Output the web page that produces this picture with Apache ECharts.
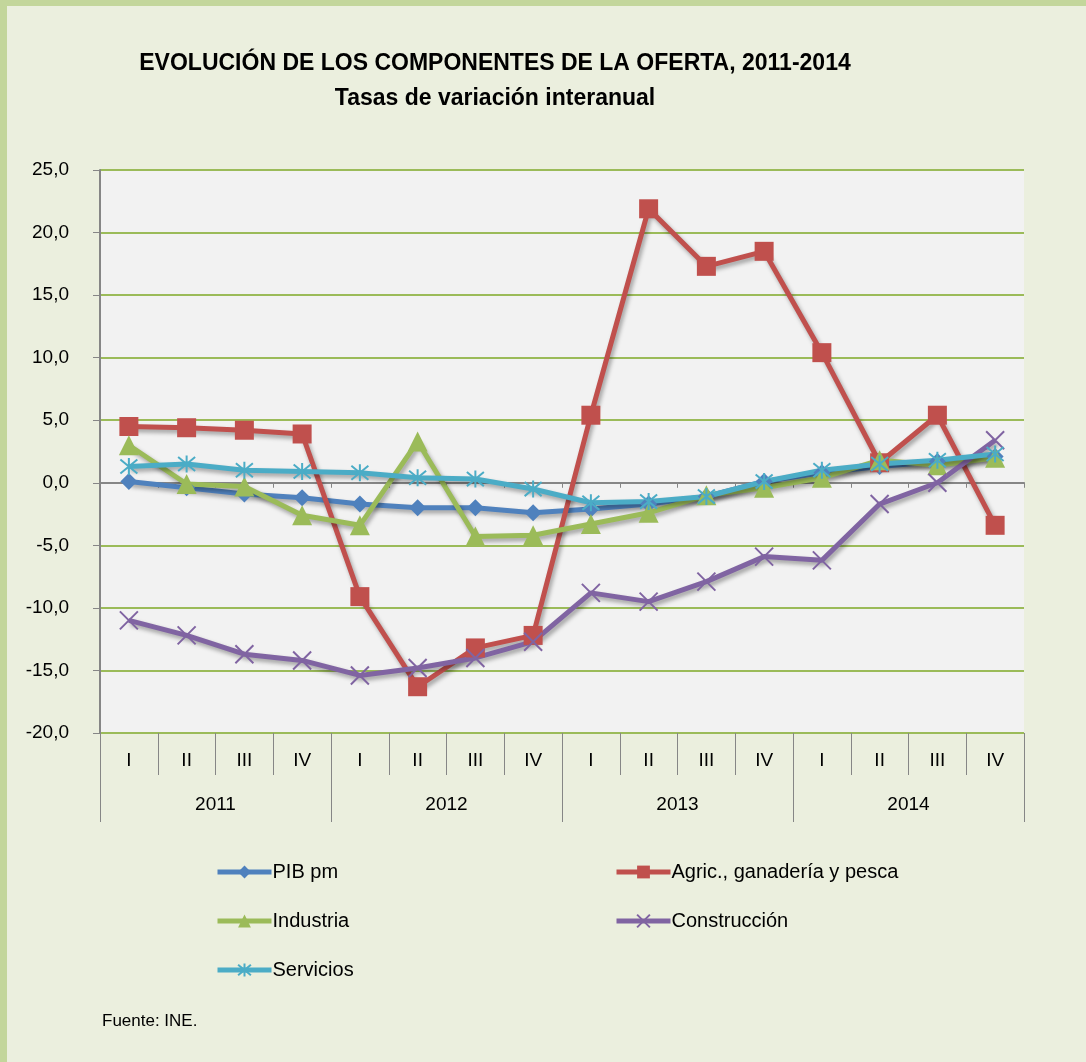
<!DOCTYPE html>
<html>
<head>
<meta charset="utf-8">
<script src="https://cdn.jsdelivr.net/npm/echarts@6/dist/echarts.min.js"></script>
<style>
  html, body { margin: 0; padding: 0; }
  body { width: 1086px; height: 1062px; background: #ebefde; }
  #frame {
    position: absolute; left: 0; top: 0; width: 1079px; height: 1056px;
    border-left: 7px solid #c3d69b; border-top: 6px solid #c3d69b;
    background: #ebefde;
  }
  #chart { position: absolute; left: -7px; top: -6px; width: 1086px; height: 1062px; }
</style>
</head>
<body>
<div id="frame"><div id="chart"></div></div>
<script>
// Quarters and years
const quarters = ['I', 'II', 'III', 'IV', 'I', 'II', 'III', 'IV', 'I', 'II', 'III', 'IV', 'I', 'II', 'III', 'IV']
const years = ['2011', '2012', '2013', '2014']

// Series values (tasas de variación interanual, %)
const pibPm = [0.1, -0.4, -0.9, -1.2, -1.7, -2.0, -2.0, -2.4, -2.1, -1.7, -1.1, 0.1, 0.8, 1.3, 1.7, 2.1]
const agric = [4.5, 4.4, 4.2, 3.9, -9.1, -16.3, -13.2, -12.2, 5.4, 21.9, 17.3, 18.5, 10.4, 1.6, 5.4, -3.4]
const industria = [3.0, -0.1, -0.3, -2.6, -3.4, 3.3, -4.3, -4.2, -3.3, -2.4, -1.0, -0.4, 0.4, 1.8, 1.4, 2.0]
const construccion = [-11.0, -12.2, -13.7, -14.2, -15.4, -14.8, -14.0, -12.7, -8.8, -9.5, -7.9, -5.9, -6.2, -1.7, 0.0, 3.4]
const servicios = [1.3, 1.5, 1.0, 0.9, 0.8, 0.4, 0.3, -0.5, -1.6, -1.5, -1.1, 0.1, 1.0, 1.5, 1.8, 2.3]

const font = 'Liberation Sans'
const chart = echarts.init(document.getElementById('chart'))

const crossPath = 'path://M0,0L10,10M10,0L0,10'
const starPath = 'path://M0,0L10,10M10,0L0,10M5,-1L5,11'

const shadow = {
  shadowColor: 'rgba(0,0,0,0.35)',
  shadowBlur: 4,
  shadowOffsetX: 2,
  shadowOffsetY: 3
}

const makeSeries = (name, data, color, symbol, size, stroke) => ({
  name: name,
  type: 'line',
  data: data,
  xAxisIndex: 0,
  symbol: symbol,
  symbolSize: size,
  showAllSymbol: true,
  lineStyle: Object.assign({ width: 5, color: color }, shadow),
  itemStyle: stroke
    ? { color: 'rgba(0,0,0,0)', borderColor: color, borderWidth: 2 }
    : { color: color, borderColor: color, borderWidth: 0 },
  emphasis: { disabled: true }
})

const legendText = { fontFamily: font, fontSize: 20, color: '#000', padding: [0, 0, 0, -4] }

const option = {
  backgroundColor: 'transparent',
  animation: false,
  textStyle: { fontFamily: font },
  title: [
    {
      text: 'EVOLUCIÓN DE LOS COMPONENTES DE LA OFERTA, 2011-2014',
      left: 490,
      top: 47,
      textAlign: 'center',
      textStyle: { fontFamily: font, fontSize: 23, fontWeight: 'bold', color: '#000' }
    },
    {
      text: 'Tasas de variación interanual',
      left: 490,
      top: 82,
      textAlign: 'center',
      textStyle: { fontFamily: font, fontSize: 23, fontWeight: 'bold', color: '#000' }
    }
  ],
  legend: [
    {
      left: 210,
      top: 857,
      orient: 'vertical',
      itemGap: 29,
      itemWidth: 54,
      itemHeight: 16,
      lineStyle: { width: 5 },
      data: ['PIB pm', 'Industria', 'Servicios'],
      textStyle: legendText
    },
    {
      left: 609,
      top: 857,
      orient: 'vertical',
      itemGap: 29,
      itemWidth: 54,
      itemHeight: 16,
      lineStyle: { width: 5 },
      data: ['Agric., ganadería y pesca', 'Construcción'],
      textStyle: legendText
    }
  ],
  grid: { left: 100, top: 170, width: 924, height: 563, backgroundColor: '#f2f2f2', show: true, borderWidth: 0 },
  xAxis: [
    {
      type: 'category',
      data: quarters,
      position: 'bottom',
      boundaryGap: true,
      axisLine: { show: false, onZero: false },
      axisTick: { show: true, length: 42, interval: 0, lineStyle: { color: '#868686', width: 1 } },
      axisLabel: { interval: 0, margin: 18, fontFamily: font, fontSize: 19, color: '#000' },
      splitLine: { show: false }
    },
    {
      type: 'category',
      data: years,
      position: 'bottom',
      boundaryGap: true,
      axisLine: { show: false, onZero: false },
      axisTick: { show: true, length: 89, interval: 0, lineStyle: { color: '#868686', width: 1 } },
      axisLabel: { interval: 0, margin: 62, fontFamily: font, fontSize: 19, color: '#000' },
      splitLine: { show: false }
    },
    {
      type: 'category',
      data: quarters,
      position: 'bottom',
      boundaryGap: true,
      axisLine: { show: true, onZero: true, lineStyle: { color: '#868686', width: 2 } },
      axisTick: { show: true, length: 5, interval: 0, lineStyle: { color: '#868686', width: 1 } },
      axisLabel: { show: false },
      splitLine: { show: false }
    }
  ],
  yAxis: {
    type: 'value',
    min: -20,
    max: 25,
    interval: 5,
    axisLine: { show: true, lineStyle: { color: '#868686', width: 2 } },
    axisTick: { show: true, length: 7, lineStyle: { color: '#868686', width: 1 } },
    axisLabel: {
      margin: 31,
      fontFamily: font,
      fontSize: 19,
      color: '#000',
      formatter: v => v.toFixed(1).replace('.', ',')
    },
    splitLine: { show: true, lineStyle: { color: '#9bbb59', width: 2 } }
  },
  series: [
    makeSeries('PIB pm', pibPm, '#4f81bd', 'diamond', 17, false),
    makeSeries('Agric., ganadería y pesca', agric, '#c0504d', 'rect', 19, false),
    makeSeries('Industria', industria, '#9bbb59', 'triangle', 20, false),
    makeSeries('Construcción', construccion, '#8064a2', crossPath, 18, true),
    makeSeries('Servicios', servicios, '#4bacc6', starPath, 17, true)
  ],
  graphic: [
    {
      type: 'text',
      left: 102,
      top: 1013,
      style: { text: 'Fuente: INE.', fontFamily: font, fontSize: 17, fill: '#000' }
    }
  ]
}

chart.setOption(option)
</script>
</body>
</html>
